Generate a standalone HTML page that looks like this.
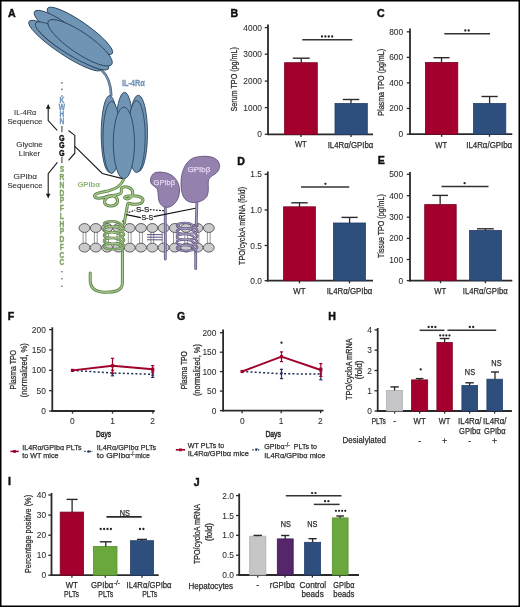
<!DOCTYPE html><html><head><meta charset="utf-8"><style>html,body{margin:0;padding:0;background:#fff;width:520px;height:607px;overflow:hidden}svg{display:block;will-change:transform;font-family:"Liberation Sans",sans-serif}</style></head><body>
<svg width="520" height="607" viewBox="0 0 520 607" font-family="Liberation Sans, sans-serif">
<rect x="0" y="0" width="520" height="607" fill="#fff"/>
<text x="8.00" y="17.30" font-size="10.6" text-anchor="start" fill="#111" font-weight="bold" stroke="#111" stroke-width="0.45">A</text>
<text x="230.40" y="16.90" font-size="10.6" text-anchor="start" fill="#111" font-weight="bold" stroke="#111" stroke-width="0.45">B</text>
<text x="376.90" y="17.20" font-size="10.6" text-anchor="start" fill="#111" font-weight="bold" stroke="#111" stroke-width="0.45">C</text>
<text x="237.30" y="164.60" font-size="10.6" text-anchor="start" fill="#111" font-weight="bold" stroke="#111" stroke-width="0.45">D</text>
<text x="377.70" y="164.20" font-size="10.6" text-anchor="start" fill="#111" font-weight="bold" stroke="#111" stroke-width="0.45">E</text>
<text x="7.70" y="319.60" font-size="10.6" text-anchor="start" fill="#111" font-weight="bold" stroke="#111" stroke-width="0.45">F</text>
<text x="176.90" y="319.90" font-size="10.6" text-anchor="start" fill="#111" font-weight="bold" stroke="#111" stroke-width="0.45">G</text>
<text x="328.30" y="320.00" font-size="10.6" text-anchor="start" fill="#111" font-weight="bold" stroke="#111" stroke-width="0.45">H</text>
<text x="8.00" y="485.10" font-size="10.6" text-anchor="start" fill="#111" font-weight="bold" stroke="#111" stroke-width="0.45">I</text>
<text x="193.70" y="485.80" font-size="10.6" text-anchor="start" fill="#111" font-weight="bold" stroke="#111" stroke-width="0.45">J</text>
<line x1="268.00" y1="24.60" x2="268.00" y2="135.10" stroke="#2a2a2a" stroke-width="1.8"/>
<line x1="264.80" y1="27.60" x2="268.00" y2="27.60" stroke="#2a2a2a" stroke-width="1.3"/>
<text x="262.00" y="30.61" font-size="8.4" text-anchor="end" fill="#2b2b2b" stroke="#2b2b2b" stroke-width="0.06">4000</text>
<line x1="264.80" y1="54.20" x2="268.00" y2="54.20" stroke="#2a2a2a" stroke-width="1.3"/>
<text x="262.00" y="57.21" font-size="8.4" text-anchor="end" fill="#2b2b2b" stroke="#2b2b2b" stroke-width="0.06">3000</text>
<line x1="264.80" y1="81.10" x2="268.00" y2="81.10" stroke="#2a2a2a" stroke-width="1.3"/>
<text x="262.00" y="84.11" font-size="8.4" text-anchor="end" fill="#2b2b2b" stroke="#2b2b2b" stroke-width="0.06">2000</text>
<line x1="264.80" y1="107.60" x2="268.00" y2="107.60" stroke="#2a2a2a" stroke-width="1.3"/>
<text x="262.00" y="110.61" font-size="8.4" text-anchor="end" fill="#2b2b2b" stroke="#2b2b2b" stroke-width="0.06">1000</text>
<line x1="264.80" y1="134.30" x2="268.00" y2="134.30" stroke="#2a2a2a" stroke-width="1.3"/>
<text x="262.00" y="137.31" font-size="8.4" text-anchor="end" fill="#2b2b2b" stroke="#2b2b2b" stroke-width="0.06">0</text>
<line x1="267.10" y1="134.30" x2="373.00" y2="134.30" stroke="#2a2a2a" stroke-width="1.8"/>
<line x1="301.00" y1="134.30" x2="301.00" y2="136.90" stroke="#2a2a2a" stroke-width="1.3"/>
<line x1="351.00" y1="134.30" x2="351.00" y2="136.90" stroke="#2a2a2a" stroke-width="1.3"/>
<rect x="284.60" y="62.70" width="32.70" height="71.60" fill="#a3002d" stroke="#7c0022" stroke-width="0.8"/>
<line x1="301.25" y1="62.80" x2="301.25" y2="58.20" stroke="#2a2a2a" stroke-width="1.3"/>
<line x1="292.80" y1="58.20" x2="309.70" y2="58.20" stroke="#2a2a2a" stroke-width="1.4"/>
<rect x="335.00" y="103.50" width="32.30" height="30.80" fill="#2e4e7e" stroke="#223e69" stroke-width="0.8"/>
<line x1="351.00" y1="103.60" x2="351.00" y2="99.50" stroke="#2a2a2a" stroke-width="1.3"/>
<line x1="342.80" y1="99.50" x2="359.20" y2="99.50" stroke="#2a2a2a" stroke-width="1.4"/>
<line x1="302.30" y1="39.80" x2="352.30" y2="39.80" stroke="#333" stroke-width="1.5"/>
<circle cx="322.00" cy="36.50" r="1.15" fill="#222"/>
<circle cx="325.40" cy="36.50" r="1.15" fill="#222"/>
<circle cx="328.80" cy="36.50" r="1.15" fill="#222"/>
<circle cx="332.20" cy="36.50" r="1.15" fill="#222"/>
<text x="300.80" y="147.40" font-size="8.8" text-anchor="middle" fill="#2b2b2b" stroke="#2b2b2b" stroke-width="0.25" textLength="11.8" lengthAdjust="spacingAndGlyphs">WT</text>
<text x="350.50" y="147.60" font-size="8.8" text-anchor="middle" fill="#2b2b2b" stroke="#2b2b2b" stroke-width="0.25" textLength="45.7" lengthAdjust="spacingAndGlyphs">IL4Rα/GPIbα</text>
<text transform="translate(237.10,79.30) rotate(-90)" x="0" y="0" font-size="9.2" text-anchor="middle" fill="#2b2b2b" stroke="#2b2b2b" stroke-width="0.25" textLength="64.2" lengthAdjust="spacingAndGlyphs">Serum TPO (pg/mL)</text>
<line x1="410.00" y1="28.50" x2="410.00" y2="135.00" stroke="#2a2a2a" stroke-width="1.8"/>
<line x1="406.80" y1="31.80" x2="410.00" y2="31.80" stroke="#2a2a2a" stroke-width="1.3"/>
<text x="403.20" y="34.81" font-size="8.4" text-anchor="end" fill="#2b2b2b" stroke="#2b2b2b" stroke-width="0.06">800</text>
<line x1="406.80" y1="57.35" x2="410.00" y2="57.35" stroke="#2a2a2a" stroke-width="1.3"/>
<text x="403.20" y="60.36" font-size="8.4" text-anchor="end" fill="#2b2b2b" stroke="#2b2b2b" stroke-width="0.06">600</text>
<line x1="406.80" y1="82.90" x2="410.00" y2="82.90" stroke="#2a2a2a" stroke-width="1.3"/>
<text x="403.20" y="85.91" font-size="8.4" text-anchor="end" fill="#2b2b2b" stroke="#2b2b2b" stroke-width="0.06">400</text>
<line x1="406.80" y1="108.45" x2="410.00" y2="108.45" stroke="#2a2a2a" stroke-width="1.3"/>
<text x="403.20" y="111.46" font-size="8.4" text-anchor="end" fill="#2b2b2b" stroke="#2b2b2b" stroke-width="0.06">200</text>
<line x1="406.80" y1="134.20" x2="410.00" y2="134.20" stroke="#2a2a2a" stroke-width="1.3"/>
<text x="403.20" y="137.21" font-size="8.4" text-anchor="end" fill="#2b2b2b" stroke="#2b2b2b" stroke-width="0.06">0</text>
<line x1="409.10" y1="134.20" x2="512.30" y2="134.20" stroke="#2a2a2a" stroke-width="1.8"/>
<line x1="441.60" y1="134.20" x2="441.60" y2="136.80" stroke="#2a2a2a" stroke-width="1.3"/>
<line x1="489.50" y1="134.20" x2="489.50" y2="136.80" stroke="#2a2a2a" stroke-width="1.3"/>
<rect x="425.40" y="62.40" width="32.40" height="71.80" fill="#a3002d" stroke="#7c0022" stroke-width="0.8"/>
<line x1="441.50" y1="62.50" x2="441.50" y2="57.70" stroke="#2a2a2a" stroke-width="1.3"/>
<line x1="433.50" y1="57.70" x2="449.50" y2="57.70" stroke="#2a2a2a" stroke-width="1.4"/>
<rect x="473.50" y="103.50" width="32.30" height="30.70" fill="#2e4e7e" stroke="#223e69" stroke-width="0.8"/>
<line x1="489.60" y1="103.60" x2="489.60" y2="96.50" stroke="#2a2a2a" stroke-width="1.3"/>
<line x1="481.50" y1="96.50" x2="497.70" y2="96.50" stroke="#2a2a2a" stroke-width="1.4"/>
<line x1="444.30" y1="33.80" x2="490.00" y2="33.80" stroke="#333" stroke-width="1.5"/>
<circle cx="465.30" cy="30.50" r="1.15" fill="#222"/>
<circle cx="468.70" cy="30.50" r="1.15" fill="#222"/>
<text x="441.20" y="147.60" font-size="8.8" text-anchor="middle" fill="#2b2b2b" stroke="#2b2b2b" stroke-width="0.25" textLength="11.8" lengthAdjust="spacingAndGlyphs">WT</text>
<text x="489.20" y="147.60" font-size="8.8" text-anchor="middle" fill="#2b2b2b" stroke="#2b2b2b" stroke-width="0.25" textLength="46" lengthAdjust="spacingAndGlyphs">IL4Rα/GPIbα</text>
<text transform="translate(384.00,82.30) rotate(-90)" x="0" y="0" font-size="9.2" text-anchor="middle" fill="#2b2b2b" stroke="#2b2b2b" stroke-width="0.25" textLength="66.8" lengthAdjust="spacingAndGlyphs">Plasma TPO (pg/mL)</text>
<line x1="267.80" y1="171.50" x2="267.80" y2="281.50" stroke="#2a2a2a" stroke-width="1.8"/>
<line x1="264.60" y1="174.30" x2="267.80" y2="174.30" stroke="#2a2a2a" stroke-width="1.3"/>
<text x="262.00" y="177.31" font-size="8.4" text-anchor="end" fill="#2b2b2b" stroke="#2b2b2b" stroke-width="0.06">1.5</text>
<line x1="264.60" y1="210.00" x2="267.80" y2="210.00" stroke="#2a2a2a" stroke-width="1.3"/>
<text x="262.00" y="213.01" font-size="8.4" text-anchor="end" fill="#2b2b2b" stroke="#2b2b2b" stroke-width="0.06">1.0</text>
<line x1="264.60" y1="245.50" x2="267.80" y2="245.50" stroke="#2a2a2a" stroke-width="1.3"/>
<text x="262.00" y="248.51" font-size="8.4" text-anchor="end" fill="#2b2b2b" stroke="#2b2b2b" stroke-width="0.06">0.5</text>
<line x1="264.60" y1="280.70" x2="267.80" y2="280.70" stroke="#2a2a2a" stroke-width="1.3"/>
<text x="262.00" y="283.71" font-size="8.4" text-anchor="end" fill="#2b2b2b" stroke="#2b2b2b" stroke-width="0.06">0.0</text>
<line x1="266.90" y1="280.70" x2="373.00" y2="280.70" stroke="#2a2a2a" stroke-width="1.8"/>
<line x1="299.50" y1="280.70" x2="299.50" y2="283.30" stroke="#2a2a2a" stroke-width="1.3"/>
<line x1="349.50" y1="280.70" x2="349.50" y2="283.30" stroke="#2a2a2a" stroke-width="1.3"/>
<rect x="283.60" y="206.80" width="31.80" height="73.90" fill="#a3002d" stroke="#7c0022" stroke-width="0.8"/>
<line x1="299.50" y1="206.90" x2="299.50" y2="202.80" stroke="#2a2a2a" stroke-width="1.3"/>
<line x1="291.30" y1="202.80" x2="307.70" y2="202.80" stroke="#2a2a2a" stroke-width="1.4"/>
<rect x="333.50" y="223.00" width="31.90" height="57.70" fill="#2e4e7e" stroke="#223e69" stroke-width="0.8"/>
<line x1="349.60" y1="223.10" x2="349.60" y2="217.40" stroke="#2a2a2a" stroke-width="1.3"/>
<line x1="341.50" y1="217.40" x2="357.70" y2="217.40" stroke="#2a2a2a" stroke-width="1.4"/>
<line x1="301.00" y1="187.10" x2="349.20" y2="187.10" stroke="#333" stroke-width="1.5"/>
<circle cx="325.40" cy="183.80" r="1.15" fill="#222"/>
<text x="299.40" y="293.70" font-size="8.8" text-anchor="middle" fill="#2b2b2b" stroke="#2b2b2b" stroke-width="0.25" textLength="12.2" lengthAdjust="spacingAndGlyphs">WT</text>
<text x="349.50" y="293.80" font-size="8.8" text-anchor="middle" fill="#2b2b2b" stroke="#2b2b2b" stroke-width="0.25" textLength="45.7" lengthAdjust="spacingAndGlyphs">IL4Rα/GPIbα</text>
<text transform="translate(245.40,225.90) rotate(-90)" x="0" y="0" font-size="9.2" text-anchor="middle" fill="#2b2b2b" stroke="#2b2b2b" stroke-width="0.25" textLength="78.1" lengthAdjust="spacingAndGlyphs">TPO/cycloA mRNA (fold)</text>
<line x1="410.00" y1="172.00" x2="410.00" y2="281.40" stroke="#2a2a2a" stroke-width="1.8"/>
<line x1="406.80" y1="174.30" x2="410.00" y2="174.30" stroke="#2a2a2a" stroke-width="1.3"/>
<text x="403.20" y="177.31" font-size="8.4" text-anchor="end" fill="#2b2b2b" stroke="#2b2b2b" stroke-width="0.06">500</text>
<line x1="406.80" y1="195.70" x2="410.00" y2="195.70" stroke="#2a2a2a" stroke-width="1.3"/>
<text x="403.20" y="198.71" font-size="8.4" text-anchor="end" fill="#2b2b2b" stroke="#2b2b2b" stroke-width="0.06">400</text>
<line x1="406.80" y1="217.20" x2="410.00" y2="217.20" stroke="#2a2a2a" stroke-width="1.3"/>
<text x="403.20" y="220.21" font-size="8.4" text-anchor="end" fill="#2b2b2b" stroke="#2b2b2b" stroke-width="0.06">300</text>
<line x1="406.80" y1="238.40" x2="410.00" y2="238.40" stroke="#2a2a2a" stroke-width="1.3"/>
<text x="403.20" y="241.41" font-size="8.4" text-anchor="end" fill="#2b2b2b" stroke="#2b2b2b" stroke-width="0.06">200</text>
<line x1="406.80" y1="259.50" x2="410.00" y2="259.50" stroke="#2a2a2a" stroke-width="1.3"/>
<text x="403.20" y="262.51" font-size="8.4" text-anchor="end" fill="#2b2b2b" stroke="#2b2b2b" stroke-width="0.06">100</text>
<line x1="406.80" y1="280.60" x2="410.00" y2="280.60" stroke="#2a2a2a" stroke-width="1.3"/>
<text x="403.20" y="283.61" font-size="8.4" text-anchor="end" fill="#2b2b2b" stroke="#2b2b2b" stroke-width="0.06">0</text>
<line x1="409.10" y1="280.60" x2="512.30" y2="280.60" stroke="#2a2a2a" stroke-width="1.8"/>
<line x1="440.50" y1="280.60" x2="440.50" y2="283.20" stroke="#2a2a2a" stroke-width="1.3"/>
<line x1="485.40" y1="280.60" x2="485.40" y2="283.20" stroke="#2a2a2a" stroke-width="1.3"/>
<rect x="424.70" y="204.60" width="31.50" height="76.00" fill="#a3002d" stroke="#7c0022" stroke-width="0.8"/>
<line x1="440.15" y1="204.70" x2="440.15" y2="195.40" stroke="#2a2a2a" stroke-width="1.3"/>
<line x1="432.30" y1="195.40" x2="448.00" y2="195.40" stroke="#2a2a2a" stroke-width="1.4"/>
<rect x="469.60" y="230.40" width="31.80" height="50.20" fill="#2e4e7e" stroke="#223e69" stroke-width="0.8"/>
<line x1="485.40" y1="230.50" x2="485.40" y2="228.80" stroke="#2a2a2a" stroke-width="1.3"/>
<line x1="477.00" y1="228.80" x2="493.80" y2="228.80" stroke="#2a2a2a" stroke-width="1.4"/>
<line x1="441.50" y1="186.60" x2="488.50" y2="186.60" stroke="#333" stroke-width="1.5"/>
<circle cx="464.60" cy="183.20" r="1.15" fill="#222"/>
<text x="440.30" y="293.70" font-size="8.8" text-anchor="middle" fill="#2b2b2b" stroke="#2b2b2b" stroke-width="0.25" textLength="11.9" lengthAdjust="spacingAndGlyphs">WT</text>
<text x="485.30" y="293.90" font-size="8.8" text-anchor="middle" fill="#2b2b2b" stroke="#2b2b2b" stroke-width="0.25" textLength="45" lengthAdjust="spacingAndGlyphs">IL4Rα/GPIbα</text>
<text transform="translate(384.20,226.00) rotate(-90)" x="0" y="0" font-size="9.2" text-anchor="middle" fill="#2b2b2b" stroke="#2b2b2b" stroke-width="0.25" textLength="63.8" lengthAdjust="spacingAndGlyphs">Tissue TPO (pg/mL)</text>
<line x1="52.30" y1="327.30" x2="52.30" y2="411.80" stroke="#2a2a2a" stroke-width="1.8"/>
<line x1="49.10" y1="329.60" x2="52.30" y2="329.60" stroke="#2a2a2a" stroke-width="1.3"/>
<text x="45.80" y="332.61" font-size="8.4" text-anchor="end" fill="#2b2b2b" stroke="#2b2b2b" stroke-width="0.06">200</text>
<line x1="49.10" y1="349.95" x2="52.30" y2="349.95" stroke="#2a2a2a" stroke-width="1.3"/>
<text x="45.80" y="352.96" font-size="8.4" text-anchor="end" fill="#2b2b2b" stroke="#2b2b2b" stroke-width="0.06">150</text>
<line x1="49.10" y1="370.30" x2="52.30" y2="370.30" stroke="#2a2a2a" stroke-width="1.3"/>
<text x="45.80" y="373.31" font-size="8.4" text-anchor="end" fill="#2b2b2b" stroke="#2b2b2b" stroke-width="0.06">100</text>
<line x1="49.10" y1="390.65" x2="52.30" y2="390.65" stroke="#2a2a2a" stroke-width="1.3"/>
<text x="45.80" y="393.66" font-size="8.4" text-anchor="end" fill="#2b2b2b" stroke="#2b2b2b" stroke-width="0.06">50</text>
<line x1="49.10" y1="411.00" x2="52.30" y2="411.00" stroke="#2a2a2a" stroke-width="1.3"/>
<text x="45.80" y="414.01" font-size="8.4" text-anchor="end" fill="#2b2b2b" stroke="#2b2b2b" stroke-width="0.06">0</text>
<line x1="51.40" y1="411.00" x2="154.70" y2="411.00" stroke="#2a2a2a" stroke-width="1.8"/>
<line x1="72.50" y1="411.00" x2="72.50" y2="413.60" stroke="#2a2a2a" stroke-width="1.3"/>
<line x1="112.50" y1="411.00" x2="112.50" y2="413.60" stroke="#2a2a2a" stroke-width="1.3"/>
<line x1="152.90" y1="411.00" x2="152.90" y2="413.60" stroke="#2a2a2a" stroke-width="1.3"/>
<text x="72.40" y="423.60" font-size="8.4" text-anchor="middle" fill="#2b2b2b" stroke="#2b2b2b" stroke-width="0.06">0</text>
<text x="112.50" y="423.60" font-size="8.4" text-anchor="middle" fill="#2b2b2b" stroke="#2b2b2b" stroke-width="0.06">1</text>
<text x="152.70" y="423.60" font-size="8.4" text-anchor="middle" fill="#2b2b2b" stroke="#2b2b2b" stroke-width="0.06">2</text>
<text x="96.10" y="436.50" font-size="8.8" text-anchor="start" fill="#2b2b2b" stroke="#2b2b2b" stroke-width="0.5" textLength="15.0" lengthAdjust="spacingAndGlyphs">Days</text>
<text transform="translate(15.60,369.70) rotate(-90)" x="0" y="0" font-size="9.8" text-anchor="middle" fill="#2b2b2b" stroke="#2b2b2b" stroke-width="0.25" textLength="39.5" lengthAdjust="spacingAndGlyphs">Plasma TPO</text>
<text transform="translate(27.00,370.20) rotate(-90)" x="0" y="0" font-size="9.8" text-anchor="middle" fill="#2b2b2b" stroke="#2b2b2b" stroke-width="0.25" textLength="54.3" lengthAdjust="spacingAndGlyphs">(normalized, %)</text>
<polyline points="72.50,370.40 112.50,373.00 152.70,374.30" fill="none" stroke="#1e2f5a" stroke-width="1.5" stroke-dasharray="2,2.2" stroke-linejoin="round"/>
<line x1="112.50" y1="370.20" x2="112.50" y2="375.80" stroke="#1e2f5a" stroke-width="1.2"/>
<line x1="110.90" y1="370.20" x2="114.10" y2="370.20" stroke="#1e2f5a" stroke-width="1.2"/>
<line x1="110.90" y1="375.80" x2="114.10" y2="375.80" stroke="#1e2f5a" stroke-width="1.2"/>
<line x1="152.70" y1="371.00" x2="152.70" y2="377.40" stroke="#1e2f5a" stroke-width="1.2"/>
<line x1="151.10" y1="371.00" x2="154.30" y2="371.00" stroke="#1e2f5a" stroke-width="1.2"/>
<line x1="151.10" y1="377.40" x2="154.30" y2="377.40" stroke="#1e2f5a" stroke-width="1.2"/>
<path d="M110.80,374.36 L114.20,374.36 L112.50,371.30 Z" fill="#1e2f5a"/>
<path d="M151.00,375.66 L154.40,375.66 L152.70,372.60 Z" fill="#1e2f5a"/>
<polyline points="72.50,370.40 112.50,365.80 152.70,369.20" fill="none" stroke="#a0002a" stroke-width="1.9" stroke-linejoin="round"/>
<line x1="112.50" y1="358.30" x2="112.50" y2="373.30" stroke="#a0002a" stroke-width="1.2"/>
<line x1="110.90" y1="358.30" x2="114.10" y2="358.30" stroke="#a0002a" stroke-width="1.2"/>
<line x1="110.90" y1="373.30" x2="114.10" y2="373.30" stroke="#a0002a" stroke-width="1.2"/>
<line x1="152.70" y1="365.60" x2="152.70" y2="372.80" stroke="#a0002a" stroke-width="1.2"/>
<line x1="151.10" y1="365.60" x2="154.30" y2="365.60" stroke="#a0002a" stroke-width="1.2"/>
<line x1="151.10" y1="372.80" x2="154.30" y2="372.80" stroke="#a0002a" stroke-width="1.2"/>
<rect x="70.90" y="368.80" width="3.20" height="3.20" fill="#a0002a"/>
<rect x="110.90" y="364.20" width="3.20" height="3.20" fill="#a0002a"/>
<rect x="151.10" y="367.60" width="3.20" height="3.20" fill="#a0002a"/>
<line x1="10.40" y1="451.40" x2="18.70" y2="451.40" stroke="#a0002a" stroke-width="1.6"/>
<rect x="13.10" y="450.00" width="2.80" height="2.80" fill="#a0002a"/>
<text x="22.30" y="449.70" font-size="8.1" text-anchor="start" fill="#2b2b2b" stroke="#2b2b2b" stroke-width="0.25" textLength="59.2" lengthAdjust="spacingAndGlyphs">IL4Rα/GPIbα PLTs</text>
<text x="22.30" y="458.10" font-size="8.1" text-anchor="start" fill="#2b2b2b" stroke="#2b2b2b" stroke-width="0.25" textLength="36.2" lengthAdjust="spacingAndGlyphs">to WT mice</text>
<line x1="84.30" y1="451.40" x2="93.00" y2="451.40" stroke="#1e2f5a" stroke-width="1.3" stroke-dasharray="1.4,1.4"/>
<path d="M87.15,452.62 L90.45,452.62 L88.80,449.65 Z" fill="#1e2f5a"/>
<text x="96.80" y="449.80" font-size="8.1" text-anchor="start" fill="#2b2b2b" stroke="#2b2b2b" stroke-width="0.25" textLength="59.4" lengthAdjust="spacingAndGlyphs">IL4Rα/GPIbα PLTs</text>
<text x="96.80" y="457.90" font-size="8.1" text-anchor="start" fill="#2b2b2b" stroke="#2b2b2b" stroke-width="0.25" textLength="33.4" lengthAdjust="spacingAndGlyphs">to GPIbα</text>
<text x="130.50" y="455.60" font-size="6.4" text-anchor="start" fill="#2b2b2b" stroke="#2b2b2b" stroke-width="0.25" textLength="4.4" lengthAdjust="spacingAndGlyphs">-/-</text>
<text x="135.20" y="457.90" font-size="8.1" text-anchor="start" fill="#2b2b2b" stroke="#2b2b2b" stroke-width="0.25" textLength="14.6" lengthAdjust="spacingAndGlyphs">mice</text>
<line x1="223.10" y1="329.60" x2="223.10" y2="411.40" stroke="#2a2a2a" stroke-width="1.8"/>
<line x1="219.90" y1="332.70" x2="223.10" y2="332.70" stroke="#2a2a2a" stroke-width="1.3"/>
<text x="216.40" y="335.71" font-size="8.4" text-anchor="end" fill="#2b2b2b" stroke="#2b2b2b" stroke-width="0.06">200</text>
<line x1="219.90" y1="352.20" x2="223.10" y2="352.20" stroke="#2a2a2a" stroke-width="1.3"/>
<text x="216.40" y="355.21" font-size="8.4" text-anchor="end" fill="#2b2b2b" stroke="#2b2b2b" stroke-width="0.06">150</text>
<line x1="219.90" y1="371.60" x2="223.10" y2="371.60" stroke="#2a2a2a" stroke-width="1.3"/>
<text x="216.40" y="374.61" font-size="8.4" text-anchor="end" fill="#2b2b2b" stroke="#2b2b2b" stroke-width="0.06">100</text>
<line x1="219.90" y1="391.10" x2="223.10" y2="391.10" stroke="#2a2a2a" stroke-width="1.3"/>
<text x="216.40" y="394.11" font-size="8.4" text-anchor="end" fill="#2b2b2b" stroke="#2b2b2b" stroke-width="0.06">50</text>
<line x1="219.90" y1="410.60" x2="223.10" y2="410.60" stroke="#2a2a2a" stroke-width="1.3"/>
<text x="216.40" y="413.61" font-size="8.4" text-anchor="end" fill="#2b2b2b" stroke="#2b2b2b" stroke-width="0.06">0</text>
<line x1="222.20" y1="410.60" x2="323.50" y2="410.60" stroke="#2a2a2a" stroke-width="1.8"/>
<line x1="242.10" y1="410.60" x2="242.10" y2="413.20" stroke="#2a2a2a" stroke-width="1.3"/>
<line x1="281.20" y1="410.60" x2="281.20" y2="413.20" stroke="#2a2a2a" stroke-width="1.3"/>
<line x1="320.60" y1="410.60" x2="320.60" y2="413.20" stroke="#2a2a2a" stroke-width="1.3"/>
<text x="242.30" y="423.60" font-size="8.4" text-anchor="middle" fill="#2b2b2b" stroke="#2b2b2b" stroke-width="0.06">0</text>
<text x="281.10" y="423.60" font-size="8.4" text-anchor="middle" fill="#2b2b2b" stroke="#2b2b2b" stroke-width="0.06">1</text>
<text x="320.40" y="423.60" font-size="8.4" text-anchor="middle" fill="#2b2b2b" stroke="#2b2b2b" stroke-width="0.06">2</text>
<text x="265.40" y="436.50" font-size="8.8" text-anchor="start" fill="#2b2b2b" stroke="#2b2b2b" stroke-width="0.5" textLength="15.5" lengthAdjust="spacingAndGlyphs">Days</text>
<text transform="translate(186.60,370.20) rotate(-90)" x="0" y="0" font-size="9.8" text-anchor="middle" fill="#2b2b2b" stroke="#2b2b2b" stroke-width="0.25" textLength="38.1" lengthAdjust="spacingAndGlyphs">Plasma TPO</text>
<text transform="translate(199.60,370.10) rotate(-90)" x="0" y="0" font-size="9.8" text-anchor="middle" fill="#2b2b2b" stroke="#2b2b2b" stroke-width="0.25" textLength="52.0" lengthAdjust="spacingAndGlyphs">(normalized, %)</text>
<polyline points="242.10,371.50 281.50,373.80 320.80,374.00" fill="none" stroke="#1e2f5a" stroke-width="1.5" stroke-dasharray="2,2.2" stroke-linejoin="round"/>
<line x1="281.50" y1="369.30" x2="281.50" y2="378.60" stroke="#1e2f5a" stroke-width="1.2"/>
<line x1="279.90" y1="369.30" x2="283.10" y2="369.30" stroke="#1e2f5a" stroke-width="1.2"/>
<line x1="279.90" y1="378.60" x2="283.10" y2="378.60" stroke="#1e2f5a" stroke-width="1.2"/>
<line x1="320.80" y1="368.20" x2="320.80" y2="379.80" stroke="#1e2f5a" stroke-width="1.2"/>
<line x1="319.20" y1="368.20" x2="322.40" y2="368.20" stroke="#1e2f5a" stroke-width="1.2"/>
<line x1="319.20" y1="379.80" x2="322.40" y2="379.80" stroke="#1e2f5a" stroke-width="1.2"/>
<path d="M279.80,372.44 L283.20,372.44 L281.50,375.50 Z" fill="#1e2f5a"/>
<path d="M319.10,372.64 L322.50,372.64 L320.80,375.70 Z" fill="#1e2f5a"/>
<polyline points="242.10,371.50 281.50,356.70 320.80,370.00" fill="none" stroke="#a0002a" stroke-width="1.9" stroke-linejoin="round"/>
<line x1="281.50" y1="351.90" x2="281.50" y2="361.60" stroke="#a0002a" stroke-width="1.2"/>
<line x1="279.90" y1="351.90" x2="283.10" y2="351.90" stroke="#a0002a" stroke-width="1.2"/>
<line x1="279.90" y1="361.60" x2="283.10" y2="361.60" stroke="#a0002a" stroke-width="1.2"/>
<line x1="320.80" y1="363.60" x2="320.80" y2="376.40" stroke="#a0002a" stroke-width="1.2"/>
<line x1="319.20" y1="363.60" x2="322.40" y2="363.60" stroke="#a0002a" stroke-width="1.2"/>
<line x1="319.20" y1="376.40" x2="322.40" y2="376.40" stroke="#a0002a" stroke-width="1.2"/>
<rect x="240.50" y="369.90" width="3.20" height="3.20" fill="#a0002a"/>
<rect x="279.90" y="355.10" width="3.20" height="3.20" fill="#a0002a"/>
<rect x="319.20" y="368.40" width="3.20" height="3.20" fill="#a0002a"/>
<circle cx="281.50" cy="342.70" r="1.15" fill="#222"/>
<line x1="175.80" y1="449.80" x2="185.10" y2="449.80" stroke="#a0002a" stroke-width="1.6"/>
<rect x="179.00" y="448.40" width="2.80" height="2.80" fill="#a0002a"/>
<text x="187.80" y="447.50" font-size="8.1" text-anchor="start" fill="#2b2b2b" stroke="#2b2b2b" stroke-width="0.25" textLength="36.5" lengthAdjust="spacingAndGlyphs">WT PLTs to</text>
<text x="187.80" y="456.30" font-size="8.1" text-anchor="start" fill="#2b2b2b" stroke="#2b2b2b" stroke-width="0.25" textLength="61.1" lengthAdjust="spacingAndGlyphs">IL4Rα/GPIbα mice</text>
<line x1="252.30" y1="449.80" x2="260.80" y2="449.80" stroke="#1e2f5a" stroke-width="1.3" stroke-dasharray="1.4,1.4"/>
<path d="M255.00,448.60 L258.00,448.60 L256.50,451.30 Z" fill="#1e2f5a"/>
<text x="264.20" y="449.20" font-size="8.1" text-anchor="start" fill="#2b2b2b" stroke="#2b2b2b" stroke-width="0.25" textLength="20.4" lengthAdjust="spacingAndGlyphs">GPIbα</text>
<text x="285.00" y="447.40" font-size="6.4" text-anchor="start" fill="#2b2b2b" stroke="#2b2b2b" stroke-width="0.25" textLength="5.0" lengthAdjust="spacingAndGlyphs">-/-</text>
<text x="293.80" y="449.20" font-size="8.1" text-anchor="start" fill="#2b2b2b" stroke="#2b2b2b" stroke-width="0.25" textLength="23.1" lengthAdjust="spacingAndGlyphs">PLTs to</text>
<text x="264.20" y="458.00" font-size="8.1" text-anchor="start" fill="#2b2b2b" stroke="#2b2b2b" stroke-width="0.25" textLength="61.2" lengthAdjust="spacingAndGlyphs">IL4Rα/GPIbα mice</text>
<line x1="377.70" y1="328.00" x2="377.70" y2="411.80" stroke="#2a2a2a" stroke-width="1.8"/>
<line x1="374.50" y1="329.90" x2="377.70" y2="329.90" stroke="#2a2a2a" stroke-width="1.3"/>
<text x="371.80" y="332.91" font-size="8.4" text-anchor="end" fill="#2b2b2b" stroke="#2b2b2b" stroke-width="0.06">4</text>
<line x1="374.50" y1="350.20" x2="377.70" y2="350.20" stroke="#2a2a2a" stroke-width="1.3"/>
<text x="371.80" y="353.21" font-size="8.4" text-anchor="end" fill="#2b2b2b" stroke="#2b2b2b" stroke-width="0.06">3</text>
<line x1="374.50" y1="370.50" x2="377.70" y2="370.50" stroke="#2a2a2a" stroke-width="1.3"/>
<text x="371.80" y="373.51" font-size="8.4" text-anchor="end" fill="#2b2b2b" stroke="#2b2b2b" stroke-width="0.06">2</text>
<line x1="374.50" y1="390.80" x2="377.70" y2="390.80" stroke="#2a2a2a" stroke-width="1.3"/>
<text x="371.80" y="393.81" font-size="8.4" text-anchor="end" fill="#2b2b2b" stroke="#2b2b2b" stroke-width="0.06">1</text>
<line x1="374.50" y1="411.00" x2="377.70" y2="411.00" stroke="#2a2a2a" stroke-width="1.3"/>
<text x="371.80" y="414.01" font-size="8.4" text-anchor="end" fill="#2b2b2b" stroke="#2b2b2b" stroke-width="0.06">0</text>
<line x1="376.80" y1="411.00" x2="511.90" y2="411.00" stroke="#2a2a2a" stroke-width="1.8"/>
<line x1="394.60" y1="411.00" x2="394.60" y2="413.60" stroke="#2a2a2a" stroke-width="1.3"/>
<line x1="419.60" y1="411.00" x2="419.60" y2="413.60" stroke="#2a2a2a" stroke-width="1.3"/>
<line x1="444.60" y1="411.00" x2="444.60" y2="413.60" stroke="#2a2a2a" stroke-width="1.3"/>
<line x1="469.60" y1="411.00" x2="469.60" y2="413.60" stroke="#2a2a2a" stroke-width="1.3"/>
<line x1="494.60" y1="411.00" x2="494.60" y2="413.60" stroke="#2a2a2a" stroke-width="1.3"/>
<rect x="386.60" y="390.40" width="16.00" height="20.60" fill="#c6c6c9" stroke="#b0b0b4" stroke-width="0.8"/>
<line x1="394.60" y1="390.50" x2="394.60" y2="386.90" stroke="#2a2a2a" stroke-width="1.3"/>
<line x1="390.40" y1="386.90" x2="398.80" y2="386.90" stroke="#2a2a2a" stroke-width="1.4"/>
<rect x="411.60" y="379.90" width="16.10" height="31.10" fill="#a3002d" stroke="#7c0022" stroke-width="0.8"/>
<line x1="419.60" y1="380.00" x2="419.60" y2="378.60" stroke="#2a2a2a" stroke-width="1.3"/>
<line x1="415.80" y1="378.60" x2="423.40" y2="378.60" stroke="#2a2a2a" stroke-width="1.4"/>
<rect x="436.90" y="342.40" width="15.40" height="68.60" fill="#a3002d" stroke="#7c0022" stroke-width="0.8"/>
<line x1="444.60" y1="342.50" x2="444.60" y2="338.50" stroke="#2a2a2a" stroke-width="1.3"/>
<line x1="439.80" y1="338.50" x2="449.40" y2="338.50" stroke="#2a2a2a" stroke-width="1.4"/>
<rect x="461.90" y="385.50" width="15.70" height="25.50" fill="#2e4e7e" stroke="#223e69" stroke-width="0.8"/>
<line x1="469.60" y1="385.60" x2="469.60" y2="382.80" stroke="#2a2a2a" stroke-width="1.3"/>
<line x1="465.40" y1="382.80" x2="473.80" y2="382.80" stroke="#2a2a2a" stroke-width="1.4"/>
<rect x="486.90" y="379.20" width="15.50" height="31.80" fill="#2e4e7e" stroke="#223e69" stroke-width="0.8"/>
<line x1="495.00" y1="379.30" x2="495.00" y2="372.00" stroke="#2a2a2a" stroke-width="1.3"/>
<line x1="491.00" y1="372.00" x2="499.00" y2="372.00" stroke="#2a2a2a" stroke-width="1.4"/>
<circle cx="420.70" cy="369.40" r="1.15" fill="#222"/>
<circle cx="440.15" cy="335.40" r="1.1" fill="#222"/>
<circle cx="443.25" cy="335.40" r="1.1" fill="#222"/>
<circle cx="446.35" cy="335.40" r="1.1" fill="#222"/>
<circle cx="449.45" cy="335.40" r="1.1" fill="#222"/>
<line x1="419.60" y1="330.30" x2="444.50" y2="330.30" stroke="#333" stroke-width="1.5"/>
<circle cx="428.60" cy="327.00" r="1.15" fill="#222"/>
<circle cx="432.00" cy="327.00" r="1.15" fill="#222"/>
<circle cx="435.40" cy="327.00" r="1.15" fill="#222"/>
<line x1="447.40" y1="330.30" x2="496.20" y2="330.30" stroke="#333" stroke-width="1.5"/>
<circle cx="469.80" cy="327.00" r="1.15" fill="#222"/>
<circle cx="473.20" cy="327.00" r="1.15" fill="#222"/>
<text x="470.00" y="375.00" font-size="8.8" text-anchor="middle" fill="#2b2b2b" stroke="#2b2b2b" stroke-width="0.25" textLength="10.3" lengthAdjust="spacingAndGlyphs">NS</text>
<text x="496.50" y="365.50" font-size="8.8" text-anchor="middle" fill="#2b2b2b" stroke="#2b2b2b" stroke-width="0.25" textLength="10.3" lengthAdjust="spacingAndGlyphs">NS</text>
<text x="371.70" y="424.20" font-size="8.8" text-anchor="start" fill="#2b2b2b" stroke="#2b2b2b" stroke-width="0.25" textLength="14.1" lengthAdjust="spacingAndGlyphs">PLTs</text>
<text x="394.60" y="423.60" font-size="8.8" text-anchor="middle" fill="#2b2b2b" stroke="#2b2b2b" stroke-width="0.25">-</text>
<text x="419.60" y="424.20" font-size="8.8" text-anchor="middle" fill="#2b2b2b" stroke="#2b2b2b" stroke-width="0.25" textLength="12.1" lengthAdjust="spacingAndGlyphs">WT</text>
<text x="444.60" y="424.20" font-size="8.8" text-anchor="middle" fill="#2b2b2b" stroke="#2b2b2b" stroke-width="0.25" textLength="11.6" lengthAdjust="spacingAndGlyphs">WT</text>
<text x="469.80" y="424.20" font-size="8.8" text-anchor="middle" fill="#2b2b2b" stroke="#2b2b2b" stroke-width="0.25" textLength="23.5" lengthAdjust="spacingAndGlyphs">IL4Rα/</text>
<text x="494.80" y="424.20" font-size="8.8" text-anchor="middle" fill="#2b2b2b" stroke="#2b2b2b" stroke-width="0.25" textLength="23.5" lengthAdjust="spacingAndGlyphs">IL4Rα/</text>
<text x="469.80" y="433.50" font-size="8.8" text-anchor="middle" fill="#2b2b2b" stroke="#2b2b2b" stroke-width="0.25" textLength="21.5" lengthAdjust="spacingAndGlyphs">GPIbα</text>
<text x="494.80" y="433.50" font-size="8.8" text-anchor="middle" fill="#2b2b2b" stroke="#2b2b2b" stroke-width="0.25" textLength="21.5" lengthAdjust="spacingAndGlyphs">GPIbα</text>
<text x="342.60" y="443.20" font-size="8.8" text-anchor="start" fill="#2b2b2b" stroke="#2b2b2b" stroke-width="0.25" textLength="43.2" lengthAdjust="spacingAndGlyphs">Desialylated</text>
<text x="419.60" y="443.60" font-size="8.8" text-anchor="middle" fill="#2b2b2b" stroke="#2b2b2b" stroke-width="0.25">-</text>
<text x="444.60" y="443.60" font-size="8.8" text-anchor="middle" fill="#2b2b2b" stroke="#2b2b2b" stroke-width="0.25">+</text>
<text x="469.60" y="443.60" font-size="8.8" text-anchor="middle" fill="#2b2b2b" stroke="#2b2b2b" stroke-width="0.25">-</text>
<text x="494.60" y="443.60" font-size="8.8" text-anchor="middle" fill="#2b2b2b" stroke="#2b2b2b" stroke-width="0.25">+</text>
<text transform="translate(351.60,369.20) rotate(-90)" x="0" y="0" font-size="8.2" text-anchor="middle" fill="#2b2b2b" stroke="#2b2b2b" stroke-width="0.25" textLength="61.4" lengthAdjust="spacingAndGlyphs">TPO/cycloA mRNA</text>
<text transform="translate(361.60,369.90) rotate(-90)" x="0" y="0" font-size="8.2" text-anchor="middle" fill="#2b2b2b" stroke="#2b2b2b" stroke-width="0.25" textLength="18.9" lengthAdjust="spacingAndGlyphs">(fold)</text>
<line x1="51.50" y1="493.00" x2="51.50" y2="576.00" stroke="#2a2a2a" stroke-width="1.8"/>
<line x1="48.30" y1="495.00" x2="51.50" y2="495.00" stroke="#2a2a2a" stroke-width="1.3"/>
<text x="46.20" y="498.01" font-size="8.4" text-anchor="end" fill="#2b2b2b" stroke="#2b2b2b" stroke-width="0.06">40</text>
<line x1="48.30" y1="515.10" x2="51.50" y2="515.10" stroke="#2a2a2a" stroke-width="1.3"/>
<text x="46.20" y="518.11" font-size="8.4" text-anchor="end" fill="#2b2b2b" stroke="#2b2b2b" stroke-width="0.06">30</text>
<line x1="48.30" y1="535.20" x2="51.50" y2="535.20" stroke="#2a2a2a" stroke-width="1.3"/>
<text x="46.20" y="538.21" font-size="8.4" text-anchor="end" fill="#2b2b2b" stroke="#2b2b2b" stroke-width="0.06">20</text>
<line x1="48.30" y1="555.30" x2="51.50" y2="555.30" stroke="#2a2a2a" stroke-width="1.3"/>
<text x="46.20" y="558.31" font-size="8.4" text-anchor="end" fill="#2b2b2b" stroke="#2b2b2b" stroke-width="0.06">10</text>
<line x1="48.30" y1="575.20" x2="51.50" y2="575.20" stroke="#2a2a2a" stroke-width="1.3"/>
<text x="46.20" y="578.21" font-size="8.4" text-anchor="end" fill="#2b2b2b" stroke="#2b2b2b" stroke-width="0.06">0</text>
<line x1="50.60" y1="575.20" x2="158.70" y2="575.20" stroke="#2a2a2a" stroke-width="1.8"/>
<line x1="71.90" y1="575.20" x2="71.90" y2="577.80" stroke="#2a2a2a" stroke-width="1.3"/>
<line x1="105.30" y1="575.20" x2="105.30" y2="577.80" stroke="#2a2a2a" stroke-width="1.3"/>
<line x1="142.00" y1="575.20" x2="142.00" y2="577.80" stroke="#2a2a2a" stroke-width="1.3"/>
<rect x="60.20" y="512.10" width="23.40" height="63.10" fill="#a3002d" stroke="#7c0022" stroke-width="0.8"/>
<line x1="72.10" y1="512.20" x2="72.10" y2="499.40" stroke="#2a2a2a" stroke-width="1.3"/>
<line x1="66.60" y1="499.40" x2="77.60" y2="499.40" stroke="#2a2a2a" stroke-width="1.4"/>
<rect x="93.50" y="546.40" width="23.50" height="28.80" fill="#6aa83e" stroke="#55902f" stroke-width="0.8"/>
<line x1="105.75" y1="546.50" x2="105.75" y2="541.80" stroke="#2a2a2a" stroke-width="1.3"/>
<line x1="99.80" y1="541.80" x2="111.70" y2="541.80" stroke="#2a2a2a" stroke-width="1.4"/>
<rect x="130.50" y="540.70" width="23.10" height="34.50" fill="#2e4e7e" stroke="#223e69" stroke-width="0.8"/>
<line x1="142.00" y1="540.80" x2="142.00" y2="539.40" stroke="#2a2a2a" stroke-width="1.3"/>
<line x1="137.00" y1="539.40" x2="147.00" y2="539.40" stroke="#2a2a2a" stroke-width="1.4"/>
<circle cx="100.70" cy="529.00" r="1.15" fill="#222"/>
<circle cx="104.10" cy="529.00" r="1.15" fill="#222"/>
<circle cx="107.50" cy="529.00" r="1.15" fill="#222"/>
<circle cx="110.90" cy="529.00" r="1.15" fill="#222"/>
<circle cx="140.00" cy="529.00" r="1.15" fill="#222"/>
<circle cx="143.40" cy="529.00" r="1.15" fill="#222"/>
<line x1="106.40" y1="516.90" x2="141.70" y2="516.90" stroke="#2a2a2a" stroke-width="1.6"/>
<text x="124.80" y="515.50" font-size="8.8" text-anchor="middle" fill="#2b2b2b" stroke="#2b2b2b" stroke-width="0.25" textLength="10.3" lengthAdjust="spacingAndGlyphs">NS</text>
<text x="71.80" y="588.30" font-size="8.8" text-anchor="middle" fill="#2b2b2b" stroke="#2b2b2b" stroke-width="0.25" textLength="12.2" lengthAdjust="spacingAndGlyphs">WT</text>
<text x="91.00" y="588.40" font-size="8.8" text-anchor="start" fill="#2b2b2b" stroke="#2b2b2b" stroke-width="0.25" textLength="22.3" lengthAdjust="spacingAndGlyphs">GPIbα</text>
<text x="113.80" y="585.40" font-size="6.4" text-anchor="start" fill="#2b2b2b" stroke="#2b2b2b" stroke-width="0.25" textLength="6.0" lengthAdjust="spacingAndGlyphs">-/-</text>
<text x="149.10" y="588.30" font-size="8.8" text-anchor="middle" fill="#2b2b2b" stroke="#2b2b2b" stroke-width="0.25" textLength="45" lengthAdjust="spacingAndGlyphs">IL4Rα/GPIbα</text>
<text x="71.60" y="597.30" font-size="8.8" text-anchor="middle" fill="#2b2b2b" stroke="#2b2b2b" stroke-width="0.25" textLength="15" lengthAdjust="spacingAndGlyphs">PLTs</text>
<text x="105.80" y="597.30" font-size="8.8" text-anchor="middle" fill="#2b2b2b" stroke="#2b2b2b" stroke-width="0.25" textLength="15" lengthAdjust="spacingAndGlyphs">PLTs</text>
<text x="149.70" y="597.30" font-size="8.8" text-anchor="middle" fill="#2b2b2b" stroke="#2b2b2b" stroke-width="0.25" textLength="15" lengthAdjust="spacingAndGlyphs">PLTs</text>
<text transform="translate(31.20,534.00) rotate(-90)" x="0" y="0" font-size="9.2" text-anchor="middle" fill="#2b2b2b" stroke="#2b2b2b" stroke-width="0.25" textLength="78.2" lengthAdjust="spacingAndGlyphs">Percentage positive (%)</text>
<line x1="239.20" y1="493.50" x2="239.20" y2="575.80" stroke="#2a2a2a" stroke-width="1.8"/>
<line x1="236.00" y1="495.60" x2="239.20" y2="495.60" stroke="#2a2a2a" stroke-width="1.3"/>
<text x="234.00" y="498.61" font-size="8.4" text-anchor="end" fill="#2b2b2b" stroke="#2b2b2b" stroke-width="0.06">2.0</text>
<line x1="236.00" y1="515.50" x2="239.20" y2="515.50" stroke="#2a2a2a" stroke-width="1.3"/>
<text x="234.00" y="518.51" font-size="8.4" text-anchor="end" fill="#2b2b2b" stroke="#2b2b2b" stroke-width="0.06">1.5</text>
<line x1="236.00" y1="535.30" x2="239.20" y2="535.30" stroke="#2a2a2a" stroke-width="1.3"/>
<text x="234.00" y="538.31" font-size="8.4" text-anchor="end" fill="#2b2b2b" stroke="#2b2b2b" stroke-width="0.06">1.0</text>
<line x1="236.00" y1="555.20" x2="239.20" y2="555.20" stroke="#2a2a2a" stroke-width="1.3"/>
<text x="234.00" y="558.21" font-size="8.4" text-anchor="end" fill="#2b2b2b" stroke="#2b2b2b" stroke-width="0.06">0.5</text>
<line x1="236.00" y1="575.00" x2="239.20" y2="575.00" stroke="#2a2a2a" stroke-width="1.3"/>
<text x="234.00" y="578.01" font-size="8.4" text-anchor="end" fill="#2b2b2b" stroke="#2b2b2b" stroke-width="0.06">0.0</text>
<line x1="238.30" y1="575.00" x2="359.00" y2="575.00" stroke="#2a2a2a" stroke-width="1.8"/>
<line x1="257.70" y1="575.00" x2="257.70" y2="577.60" stroke="#2a2a2a" stroke-width="1.3"/>
<line x1="285.00" y1="575.00" x2="285.00" y2="577.60" stroke="#2a2a2a" stroke-width="1.3"/>
<line x1="312.40" y1="575.00" x2="312.40" y2="577.60" stroke="#2a2a2a" stroke-width="1.3"/>
<line x1="339.80" y1="575.00" x2="339.80" y2="577.60" stroke="#2a2a2a" stroke-width="1.3"/>
<rect x="249.70" y="536.20" width="16.10" height="38.80" fill="#c6c6c9" stroke="#b0b0b4" stroke-width="0.8"/>
<line x1="257.70" y1="536.30" x2="257.70" y2="535.40" stroke="#2a2a2a" stroke-width="1.3"/>
<line x1="253.50" y1="535.40" x2="261.90" y2="535.40" stroke="#2a2a2a" stroke-width="1.4"/>
<rect x="277.30" y="538.90" width="15.90" height="36.10" fill="#55266b" stroke="#3e1850" stroke-width="0.8"/>
<line x1="285.20" y1="539.00" x2="285.20" y2="535.50" stroke="#2a2a2a" stroke-width="1.3"/>
<line x1="281.10" y1="535.50" x2="289.30" y2="535.50" stroke="#2a2a2a" stroke-width="1.4"/>
<rect x="304.60" y="542.30" width="16.00" height="32.70" fill="#2e4e7e" stroke="#223e69" stroke-width="0.8"/>
<line x1="312.60" y1="542.40" x2="312.60" y2="538.70" stroke="#2a2a2a" stroke-width="1.3"/>
<line x1="308.50" y1="538.70" x2="316.70" y2="538.70" stroke="#2a2a2a" stroke-width="1.4"/>
<rect x="332.30" y="517.90" width="15.80" height="57.10" fill="#6aa83e" stroke="#55902f" stroke-width="0.8"/>
<line x1="340.15" y1="518.00" x2="340.15" y2="516.00" stroke="#2a2a2a" stroke-width="1.3"/>
<line x1="336.30" y1="516.00" x2="344.00" y2="516.00" stroke="#2a2a2a" stroke-width="1.4"/>
<text x="285.90" y="526.60" font-size="8.8" text-anchor="middle" fill="#2b2b2b" stroke="#2b2b2b" stroke-width="0.25" textLength="10.2" lengthAdjust="spacingAndGlyphs">NS</text>
<text x="312.40" y="526.60" font-size="8.8" text-anchor="middle" fill="#2b2b2b" stroke="#2b2b2b" stroke-width="0.25" textLength="10.2" lengthAdjust="spacingAndGlyphs">NS</text>
<circle cx="335.95" cy="510.80" r="1.1" fill="#222"/>
<circle cx="339.05" cy="510.80" r="1.1" fill="#222"/>
<circle cx="342.15" cy="510.80" r="1.1" fill="#222"/>
<circle cx="345.25" cy="510.80" r="1.1" fill="#222"/>
<line x1="285.80" y1="495.80" x2="341.50" y2="495.80" stroke="#333" stroke-width="1.5"/>
<circle cx="312.10" cy="493.10" r="1.15" fill="#222"/>
<circle cx="315.50" cy="493.10" r="1.15" fill="#222"/>
<line x1="313.80" y1="504.40" x2="339.60" y2="504.40" stroke="#333" stroke-width="1.5"/>
<circle cx="325.00" cy="501.20" r="1.15" fill="#222"/>
<circle cx="328.40" cy="501.20" r="1.15" fill="#222"/>
<text x="188.50" y="589.30" font-size="8.8" text-anchor="start" fill="#2b2b2b" stroke="#2b2b2b" stroke-width="0.25" textLength="44.6" lengthAdjust="spacingAndGlyphs">Hepatocytes</text>
<text x="257.70" y="588.20" font-size="8.8" text-anchor="middle" fill="#2b2b2b" stroke="#2b2b2b" stroke-width="0.25">-</text>
<text x="282.30" y="588.00" font-size="8.8" text-anchor="middle" fill="#2b2b2b" stroke="#2b2b2b" stroke-width="0.25" textLength="25" lengthAdjust="spacingAndGlyphs">rGPIbα</text>
<text x="312.90" y="588.00" font-size="8.8" text-anchor="middle" fill="#2b2b2b" stroke="#2b2b2b" stroke-width="0.25" textLength="26.6" lengthAdjust="spacingAndGlyphs">Control</text>
<text x="343.90" y="588.00" font-size="8.8" text-anchor="middle" fill="#2b2b2b" stroke="#2b2b2b" stroke-width="0.25" textLength="21.1" lengthAdjust="spacingAndGlyphs">GPIbα</text>
<text x="312.60" y="596.90" font-size="8.8" text-anchor="middle" fill="#2b2b2b" stroke="#2b2b2b" stroke-width="0.25" textLength="22.2" lengthAdjust="spacingAndGlyphs">beads</text>
<text x="343.90" y="596.90" font-size="8.8" text-anchor="middle" fill="#2b2b2b" stroke="#2b2b2b" stroke-width="0.25" textLength="21.1" lengthAdjust="spacingAndGlyphs">beads</text>
<text transform="translate(199.90,534.00) rotate(-90)" x="0" y="0" font-size="8.2" text-anchor="middle" fill="#2b2b2b" stroke="#2b2b2b" stroke-width="0.25" textLength="60" lengthAdjust="spacingAndGlyphs">TPO/cycloA mRNA</text>
<text transform="translate(212.20,532.00) rotate(-90)" x="0" y="0" font-size="8.2" text-anchor="middle" fill="#2b2b2b" stroke="#2b2b2b" stroke-width="0.25" textLength="18" lengthAdjust="spacingAndGlyphs">(fold)</text>
<path d="M101.5,70 C107,75 111,84 111.2,96" fill="none" stroke="#46627f" stroke-width="2.6"/>
<path d="M101.5,70 C107,75 111,84 111.2,96" fill="none" stroke="#7c98b4" stroke-width="1.2"/>
<ellipse cx="79.90" cy="30.90" rx="39.50" ry="8.80" transform="rotate(34.90 79.90 30.90)" fill="#7095b4" stroke="#2b4560" stroke-width="0.9"/>
<ellipse cx="60.07" cy="29.27" rx="31.00" ry="8.20" transform="rotate(34.74 60.07 29.27)" fill="#7095b4" stroke="#2b4560" stroke-width="0.9"/>
<ellipse cx="65.25" cy="45.60" rx="43.59" ry="9.00" transform="rotate(33.73 65.25 45.60)" fill="#7095b4" stroke="#2b4560" stroke-width="0.9"/>
<ellipse cx="72.05" cy="45.90" rx="42.94" ry="9.20" transform="rotate(31.91 72.05 45.90)" fill="#7095b4" stroke="#2b4560" stroke-width="0.9"/>
<ellipse cx="80.05" cy="42.80" rx="38.40" ry="10.40" transform="rotate(34.23 80.05 42.80)" fill="#7095b4" stroke="#2b4560" stroke-width="0.9"/>
<ellipse cx="124.50" cy="130.50" rx="8.80" ry="38.20" fill="#7095b4" stroke="#2b4560" stroke-width="0.9"/>
<ellipse cx="109.60" cy="134.00" rx="8.40" ry="38.40" fill="#7095b4" stroke="#2b4560" stroke-width="0.9"/>
<ellipse cx="138.30" cy="133.40" rx="9.20" ry="38.20" fill="#7095b4" stroke="#2b4560" stroke-width="0.9"/>
<ellipse cx="111.60" cy="137.40" rx="8.60" ry="36.00" fill="#7095b4" stroke="#2b4560" stroke-width="0.9"/>
<ellipse cx="136.60" cy="136.60" rx="8.60" ry="36.00" fill="#7095b4" stroke="#2b4560" stroke-width="0.9"/>
<ellipse cx="123.90" cy="143.00" rx="10.60" ry="35.90" fill="#7095b4" stroke="#2b4560" stroke-width="0.9"/>
<text x="121.90" y="85.50" font-size="8.8" text-anchor="start" fill="#7595b8" font-weight="bold" textLength="22.9" lengthAdjust="spacingAndGlyphs" stroke="#7595b8" stroke-width="0.3">IL-4Rα</text>
<text x="61.90" y="103.30" font-size="8.3" text-anchor="middle" fill="#6f96bd" font-weight="bold" textLength="4.8" lengthAdjust="spacingAndGlyphs" stroke="#6f96bd" stroke-width="0.35">K</text>
<text x="61.90" y="110.00" font-size="8.3" text-anchor="middle" fill="#6f96bd" font-weight="bold" textLength="6.27" lengthAdjust="spacingAndGlyphs" stroke="#6f96bd" stroke-width="0.35">W</text>
<text x="61.90" y="116.70" font-size="8.3" text-anchor="middle" fill="#6f96bd" font-weight="bold" textLength="4.8" lengthAdjust="spacingAndGlyphs" stroke="#6f96bd" stroke-width="0.35">H</text>
<text x="61.90" y="124.00" font-size="8.3" text-anchor="middle" fill="#6f96bd" font-weight="bold" textLength="4.8" lengthAdjust="spacingAndGlyphs" stroke="#6f96bd" stroke-width="0.35">N</text>
<text x="61.90" y="132.10" font-size="8.3" text-anchor="middle" fill="#222" stroke="#222" stroke-width="0.25" textLength="1.84" lengthAdjust="spacingAndGlyphs">I</text>
<text x="61.90" y="140.90" font-size="8.8" text-anchor="middle" fill="#111" font-weight="bold" textLength="5.61" lengthAdjust="spacingAndGlyphs" stroke="#111" stroke-width="0.35">G</text>
<text x="61.90" y="148.30" font-size="8.8" text-anchor="middle" fill="#111" font-weight="bold" textLength="5.61" lengthAdjust="spacingAndGlyphs" stroke="#111" stroke-width="0.35">G</text>
<text x="61.90" y="155.70" font-size="8.8" text-anchor="middle" fill="#111" font-weight="bold" textLength="5.61" lengthAdjust="spacingAndGlyphs" stroke="#111" stroke-width="0.35">G</text>
<text x="61.90" y="163.10" font-size="8.3" text-anchor="middle" fill="#222" stroke="#222" stroke-width="0.25" textLength="1.84" lengthAdjust="spacingAndGlyphs">I</text>
<text x="61.90" y="172.30" font-size="8.3" text-anchor="middle" fill="#7fa263" font-weight="bold" textLength="4.43" lengthAdjust="spacingAndGlyphs" stroke="#7fa263" stroke-width="0.35">S</text>
<text x="61.90" y="180.06" font-size="8.3" text-anchor="middle" fill="#7fa263" font-weight="bold" textLength="4.8" lengthAdjust="spacingAndGlyphs" stroke="#7fa263" stroke-width="0.35">R</text>
<text x="61.90" y="187.82" font-size="8.3" text-anchor="middle" fill="#7fa263" font-weight="bold" textLength="4.8" lengthAdjust="spacingAndGlyphs" stroke="#7fa263" stroke-width="0.35">N</text>
<text x="61.90" y="195.58" font-size="8.3" text-anchor="middle" fill="#7fa263" font-weight="bold" textLength="4.8" lengthAdjust="spacingAndGlyphs" stroke="#7fa263" stroke-width="0.35">D</text>
<text x="61.90" y="203.34" font-size="8.3" text-anchor="middle" fill="#7fa263" font-weight="bold" textLength="4.43" lengthAdjust="spacingAndGlyphs" stroke="#7fa263" stroke-width="0.35">P</text>
<text x="61.90" y="211.10" font-size="8.3" text-anchor="middle" fill="#7fa263" font-weight="bold" textLength="4.06" lengthAdjust="spacingAndGlyphs" stroke="#7fa263" stroke-width="0.35">F</text>
<text x="61.90" y="218.86" font-size="8.3" text-anchor="middle" fill="#7fa263" font-weight="bold" textLength="4.06" lengthAdjust="spacingAndGlyphs" stroke="#7fa263" stroke-width="0.35">L</text>
<text x="61.90" y="226.62" font-size="8.3" text-anchor="middle" fill="#7fa263" font-weight="bold" textLength="4.8" lengthAdjust="spacingAndGlyphs" stroke="#7fa263" stroke-width="0.35">H</text>
<text x="61.90" y="234.38" font-size="8.3" text-anchor="middle" fill="#7fa263" font-weight="bold" textLength="4.43" lengthAdjust="spacingAndGlyphs" stroke="#7fa263" stroke-width="0.35">P</text>
<text x="61.90" y="242.14" font-size="8.3" text-anchor="middle" fill="#7fa263" font-weight="bold" textLength="4.8" lengthAdjust="spacingAndGlyphs" stroke="#7fa263" stroke-width="0.35">D</text>
<text x="61.90" y="249.90" font-size="8.3" text-anchor="middle" fill="#7fa263" font-weight="bold" textLength="4.06" lengthAdjust="spacingAndGlyphs" stroke="#7fa263" stroke-width="0.35">F</text>
<text x="61.90" y="257.66" font-size="8.3" text-anchor="middle" fill="#7fa263" font-weight="bold" textLength="4.8" lengthAdjust="spacingAndGlyphs" stroke="#7fa263" stroke-width="0.35">C</text>
<text x="61.90" y="265.42" font-size="8.3" text-anchor="middle" fill="#7fa263" font-weight="bold" textLength="4.8" lengthAdjust="spacingAndGlyphs" stroke="#7fa263" stroke-width="0.35">C</text>
<circle cx="61.9" cy="82.9" r="0.8" fill="#555"/>
<circle cx="61.9" cy="89.4" r="0.8" fill="#555"/>
<circle cx="61.9" cy="96.0" r="0.8" fill="#555"/>
<circle cx="61.9" cy="271.8" r="0.8" fill="#555"/>
<circle cx="61.9" cy="278.7" r="0.8" fill="#555"/>
<circle cx="61.9" cy="286.3" r="0.8" fill="#555"/>
<text x="14.10" y="114.60" font-size="7.3" text-anchor="start" fill="#333" stroke="#333" stroke-width="0.1" textLength="22.2" lengthAdjust="spacingAndGlyphs">IL-4Rα</text>
<text x="7.40" y="124.30" font-size="7.3" text-anchor="start" fill="#333" stroke="#333" stroke-width="0.1" textLength="35" lengthAdjust="spacingAndGlyphs">Sequence</text>
<text x="16.20" y="146.90" font-size="7.3" text-anchor="start" fill="#333" stroke="#333" stroke-width="0.1" textLength="26.6" lengthAdjust="spacingAndGlyphs">Glycine</text>
<text x="18.80" y="155.70" font-size="7.3" text-anchor="start" fill="#333" stroke="#333" stroke-width="0.1" textLength="21.3" lengthAdjust="spacingAndGlyphs">Linker</text>
<text x="13.60" y="178.50" font-size="7.3" text-anchor="start" fill="#333" stroke="#333" stroke-width="0.1" textLength="23.4" lengthAdjust="spacingAndGlyphs">GPIbα</text>
<text x="7.40" y="188.30" font-size="7.3" text-anchor="start" fill="#333" stroke="#333" stroke-width="0.1" textLength="35.1" lengthAdjust="spacingAndGlyphs">Sequence</text>
<polyline points="57.2,130.3 48.2,120.6 48.2,107.5" fill="none" stroke="#1a1a1a" stroke-width="1.1"/>
<path d="M48.2,104 L45.9,108.8 L50.5,108.8 Z" fill="#1a1a1a"/>
<polyline points="57.4,162.4 48.2,173.6 48.2,194.5" fill="none" stroke="#1a1a1a" stroke-width="1.1"/>
<path d="M48.2,198.6 L45.9,193.8 L50.5,193.8 Z" fill="#1a1a1a"/>
<polyline points="68.5,130.5 74.8,135.4 74.8,153.2 68.5,160.3" fill="none" stroke="#1a1a1a" stroke-width="1.1"/>
<polyline points="74.8,146.3 102.3,173.5 122.5,178.6" fill="none" stroke="#1a1a1a" stroke-width="1.1"/>
<text x="77.40" y="186.60" font-size="7.4" text-anchor="start" fill="#90b477" font-weight="bold" textLength="22.6" lengthAdjust="spacingAndGlyphs">GPIbα</text>
<line x1="83.10" y1="232" x2="83.10" y2="243.5" stroke="#8a8a8a" stroke-width="0.9"/>
<line x1="85.90" y1="232" x2="85.90" y2="243.5" stroke="#8a8a8a" stroke-width="0.9"/>
<line x1="94.40" y1="232" x2="94.40" y2="243.5" stroke="#8a8a8a" stroke-width="0.9"/>
<line x1="97.20" y1="232" x2="97.20" y2="243.5" stroke="#8a8a8a" stroke-width="0.9"/>
<line x1="105.70" y1="232" x2="105.70" y2="243.5" stroke="#8a8a8a" stroke-width="0.9"/>
<line x1="108.50" y1="232" x2="108.50" y2="243.5" stroke="#8a8a8a" stroke-width="0.9"/>
<line x1="117.00" y1="232" x2="117.00" y2="243.5" stroke="#8a8a8a" stroke-width="0.9"/>
<line x1="119.80" y1="232" x2="119.80" y2="243.5" stroke="#8a8a8a" stroke-width="0.9"/>
<line x1="128.30" y1="232" x2="128.30" y2="243.5" stroke="#8a8a8a" stroke-width="0.9"/>
<line x1="131.10" y1="232" x2="131.10" y2="243.5" stroke="#8a8a8a" stroke-width="0.9"/>
<line x1="139.60" y1="232" x2="139.60" y2="243.5" stroke="#8a8a8a" stroke-width="0.9"/>
<line x1="142.40" y1="232" x2="142.40" y2="243.5" stroke="#8a8a8a" stroke-width="0.9"/>
<line x1="150.90" y1="232" x2="150.90" y2="243.5" stroke="#8a8a8a" stroke-width="0.9"/>
<line x1="153.70" y1="232" x2="153.70" y2="243.5" stroke="#8a8a8a" stroke-width="0.9"/>
<line x1="162.20" y1="232" x2="162.20" y2="243.5" stroke="#8a8a8a" stroke-width="0.9"/>
<line x1="165.00" y1="232" x2="165.00" y2="243.5" stroke="#8a8a8a" stroke-width="0.9"/>
<line x1="173.50" y1="232" x2="173.50" y2="243.5" stroke="#8a8a8a" stroke-width="0.9"/>
<line x1="176.30" y1="232" x2="176.30" y2="243.5" stroke="#8a8a8a" stroke-width="0.9"/>
<line x1="184.80" y1="232" x2="184.80" y2="243.5" stroke="#8a8a8a" stroke-width="0.9"/>
<line x1="187.60" y1="232" x2="187.60" y2="243.5" stroke="#8a8a8a" stroke-width="0.9"/>
<line x1="196.10" y1="232" x2="196.10" y2="243.5" stroke="#8a8a8a" stroke-width="0.9"/>
<line x1="198.90" y1="232" x2="198.90" y2="243.5" stroke="#8a8a8a" stroke-width="0.9"/>
<line x1="207.40" y1="232" x2="207.40" y2="243.5" stroke="#8a8a8a" stroke-width="0.9"/>
<line x1="210.20" y1="232" x2="210.20" y2="243.5" stroke="#8a8a8a" stroke-width="0.9"/>
<ellipse cx="84.50" cy="228.00" rx="5.45" ry="4.45" fill="#cbcbcd" stroke="#4f4f4f" stroke-width="0.9"/>
<ellipse cx="95.80" cy="228.00" rx="5.45" ry="4.45" fill="#cbcbcd" stroke="#4f4f4f" stroke-width="0.9"/>
<ellipse cx="107.10" cy="228.00" rx="5.45" ry="4.45" fill="#cbcbcd" stroke="#4f4f4f" stroke-width="0.9"/>
<ellipse cx="118.40" cy="228.00" rx="5.45" ry="4.45" fill="#cbcbcd" stroke="#4f4f4f" stroke-width="0.9"/>
<ellipse cx="129.70" cy="228.00" rx="5.45" ry="4.45" fill="#cbcbcd" stroke="#4f4f4f" stroke-width="0.9"/>
<ellipse cx="141.00" cy="228.00" rx="5.45" ry="4.45" fill="#cbcbcd" stroke="#4f4f4f" stroke-width="0.9"/>
<ellipse cx="152.30" cy="228.00" rx="5.45" ry="4.45" fill="#cbcbcd" stroke="#4f4f4f" stroke-width="0.9"/>
<ellipse cx="163.60" cy="228.00" rx="5.45" ry="4.45" fill="#cbcbcd" stroke="#4f4f4f" stroke-width="0.9"/>
<ellipse cx="174.90" cy="228.00" rx="5.45" ry="4.45" fill="#cbcbcd" stroke="#4f4f4f" stroke-width="0.9"/>
<ellipse cx="186.20" cy="228.00" rx="5.45" ry="4.45" fill="#cbcbcd" stroke="#4f4f4f" stroke-width="0.9"/>
<ellipse cx="197.50" cy="228.00" rx="5.45" ry="4.45" fill="#cbcbcd" stroke="#4f4f4f" stroke-width="0.9"/>
<ellipse cx="208.80" cy="228.00" rx="5.45" ry="4.45" fill="#cbcbcd" stroke="#4f4f4f" stroke-width="0.9"/>
<ellipse cx="84.50" cy="247.60" rx="5.45" ry="4.45" fill="#cbcbcd" stroke="#4f4f4f" stroke-width="0.9"/>
<ellipse cx="95.80" cy="247.60" rx="5.45" ry="4.45" fill="#cbcbcd" stroke="#4f4f4f" stroke-width="0.9"/>
<ellipse cx="107.10" cy="247.60" rx="5.45" ry="4.45" fill="#cbcbcd" stroke="#4f4f4f" stroke-width="0.9"/>
<ellipse cx="118.40" cy="247.60" rx="5.45" ry="4.45" fill="#cbcbcd" stroke="#4f4f4f" stroke-width="0.9"/>
<ellipse cx="129.70" cy="247.60" rx="5.45" ry="4.45" fill="#cbcbcd" stroke="#4f4f4f" stroke-width="0.9"/>
<ellipse cx="141.00" cy="247.60" rx="5.45" ry="4.45" fill="#cbcbcd" stroke="#4f4f4f" stroke-width="0.9"/>
<ellipse cx="152.30" cy="247.60" rx="5.45" ry="4.45" fill="#cbcbcd" stroke="#4f4f4f" stroke-width="0.9"/>
<ellipse cx="163.60" cy="247.60" rx="5.45" ry="4.45" fill="#cbcbcd" stroke="#4f4f4f" stroke-width="0.9"/>
<ellipse cx="174.90" cy="247.60" rx="5.45" ry="4.45" fill="#cbcbcd" stroke="#4f4f4f" stroke-width="0.9"/>
<ellipse cx="186.20" cy="247.60" rx="5.45" ry="4.45" fill="#cbcbcd" stroke="#4f4f4f" stroke-width="0.9"/>
<ellipse cx="197.50" cy="247.60" rx="5.45" ry="4.45" fill="#cbcbcd" stroke="#4f4f4f" stroke-width="0.9"/>
<ellipse cx="208.80" cy="247.60" rx="5.45" ry="4.45" fill="#cbcbcd" stroke="#4f4f4f" stroke-width="0.9"/>
<line x1="147" y1="234.6" x2="162.5" y2="234.6" stroke="#6a5b86" stroke-width="1.1"/>
<line x1="147" y1="237.2" x2="162.5" y2="237.2" stroke="#6a5b86" stroke-width="1.1"/>
<line x1="147" y1="239.8" x2="162.5" y2="239.8" stroke="#6a5b86" stroke-width="1.1"/>
<path d="M123,221 C126,223.5 124,226.8 112.5,226.8 C101,226.8 101,221.2 112.5,221.2 C118.5,221.2 122.5,224.8 122.8,227.2 C126,229.1 124,232.4 112.5,232.4 C101,232.4 101,226.79999999999998 112.5,226.79999999999998 C118.5,226.79999999999998 122.5,230.4 122.8,232.79999999999998 C126,234.7 124,238.0 112.5,238.0 C101,238.0 101,232.39999999999998 112.5,232.39999999999998 C118.5,232.39999999999998 122.5,236.0 122.8,238.39999999999998 C126,240.3 124,243.60000000000002 112.5,243.60000000000002 C101,243.60000000000002 101,238.0 112.5,238.0 C118.5,238.0 122.5,241.60000000000002 122.8,244.0 C126,245.9 124,249.20000000000002 112.5,249.20000000000002 C101,249.20000000000002 101,243.6 112.5,243.6 C118.5,243.6 122.5,247.20000000000002 122.8,249.6 L122.4,253" fill="none" stroke="#5d8346" stroke-width="2.4" stroke-linecap="round" stroke-linejoin="round"/>
<path d="M123,221 C126,223.5 124,226.8 112.5,226.8 C101,226.8 101,221.2 112.5,221.2 C118.5,221.2 122.5,224.8 122.8,227.2 C126,229.1 124,232.4 112.5,232.4 C101,232.4 101,226.79999999999998 112.5,226.79999999999998 C118.5,226.79999999999998 122.5,230.4 122.8,232.79999999999998 C126,234.7 124,238.0 112.5,238.0 C101,238.0 101,232.39999999999998 112.5,232.39999999999998 C118.5,232.39999999999998 122.5,236.0 122.8,238.39999999999998 C126,240.3 124,243.60000000000002 112.5,243.60000000000002 C101,243.60000000000002 101,238.0 112.5,238.0 C118.5,238.0 122.5,241.60000000000002 122.8,244.0 C126,245.9 124,249.20000000000002 112.5,249.20000000000002 C101,249.20000000000002 101,243.6 112.5,243.6 C118.5,243.6 122.5,247.20000000000002 122.8,249.6 L122.4,253" fill="none" stroke="#a9c98f" stroke-width="1.0" stroke-linecap="round" stroke-linejoin="round"/>
<path d="M122.4,252 L122.4,283 C122.4,291 114,292.6 104,292.2 C94,291.8 90.2,287 90.2,280 L90.2,273" fill="none" stroke="#5d8346" stroke-width="3.0" stroke-linecap="round" stroke-linejoin="round"/>
<path d="M122.4,252 L122.4,283 C122.4,291 114,292.6 104,292.2 C94,291.8 90.2,287 90.2,280 L90.2,273" fill="none" stroke="#a9c98f" stroke-width="1.3" stroke-linecap="round" stroke-linejoin="round"/>
<path d="M123.5,179.8 C121,186 114,189.5 108,191 C101,192.5 94.5,193 94.5,196 C94.5,199 102,198.5 107,196.5 C113,194 118,197 117.5,201.5 C117,206 110,207 106.5,205 C103,203 104.5,198 109,196.5 C114,195 118,195 120.5,193.5 C123,192 119.5,188.5 122.5,187.3 C126,186 132,187.5 132.7,192 C133.2,197 128.5,200 125.5,198.5 C123,197 126,195.5 130,196 C136,195.5 143.5,196.5 143,200.5 C142.5,204.5 134,205 130,203.5 C127,202.5 127.5,205 127,208 C126.5,212 125,217 124.5,222.5" fill="none" stroke="#5d8346" stroke-width="3.0" stroke-linecap="round" stroke-linejoin="round"/>
<path d="M123.5,179.8 C121,186 114,189.5 108,191 C101,192.5 94.5,193 94.5,196 C94.5,199 102,198.5 107,196.5 C113,194 118,197 117.5,201.5 C117,206 110,207 106.5,205 C103,203 104.5,198 109,196.5 C114,195 118,195 120.5,193.5 C123,192 119.5,188.5 122.5,187.3 C126,186 132,187.5 132.7,192 C133.2,197 128.5,200 125.5,198.5 C123,197 126,195.5 130,196 C136,195.5 143.5,196.5 143,200.5 C142.5,204.5 134,205 130,203.5 C127,202.5 127.5,205 127,208 C126.5,212 125,217 124.5,222.5" fill="none" stroke="#a9c98f" stroke-width="1.3" stroke-linecap="round" stroke-linejoin="round"/>
<path d="M165.3,206 L165.3,259" fill="none" stroke="#625681" stroke-width="2.8" stroke-linecap="round" stroke-linejoin="round"/>
<path d="M165.3,206 L165.3,259" fill="none" stroke="#a89dc0" stroke-width="1.2" stroke-linecap="round" stroke-linejoin="round"/>
<path d="M196.4,223.5 C199,225.1 197.4,228.4 185.5,228.4 C174,228.4 174,222.79999999999998 185.5,222.79999999999998 C191.5,222.79999999999998 195.6,226.4 196,228.79999999999998 C199,230.7 197.4,234.0 185.5,234.0 C174,234.0 174,228.39999999999998 185.5,228.39999999999998 C191.5,228.39999999999998 195.6,232.0 196,234.39999999999998 C199,236.3 197.4,239.60000000000002 185.5,239.60000000000002 C174,239.60000000000002 174,234.0 185.5,234.0 C191.5,234.0 195.6,237.60000000000002 196,240.0 C199,241.9 197.4,245.20000000000002 185.5,245.20000000000002 C174,245.20000000000002 174,239.6 185.5,239.6 C191.5,239.6 195.6,243.20000000000002 196,245.6 C199,247.5 197.4,250.8 185.5,250.8 C174,250.8 174,245.2 185.5,245.2 C191.5,245.2 195.6,248.8 196,251.2 L195.7,254" fill="none" stroke="#625681" stroke-width="2.3" stroke-linecap="round" stroke-linejoin="round"/>
<path d="M196.4,223.5 C199,225.1 197.4,228.4 185.5,228.4 C174,228.4 174,222.79999999999998 185.5,222.79999999999998 C191.5,222.79999999999998 195.6,226.4 196,228.79999999999998 C199,230.7 197.4,234.0 185.5,234.0 C174,234.0 174,228.39999999999998 185.5,228.39999999999998 C191.5,228.39999999999998 195.6,232.0 196,234.39999999999998 C199,236.3 197.4,239.60000000000002 185.5,239.60000000000002 C174,239.60000000000002 174,234.0 185.5,234.0 C191.5,234.0 195.6,237.60000000000002 196,240.0 C199,241.9 197.4,245.20000000000002 185.5,245.20000000000002 C174,245.20000000000002 174,239.6 185.5,239.6 C191.5,239.6 195.6,243.20000000000002 196,245.6 C199,247.5 197.4,250.8 185.5,250.8 C174,250.8 174,245.2 185.5,245.2 C191.5,245.2 195.6,248.8 196,251.2 L195.7,254" fill="none" stroke="#a89dc0" stroke-width="1.0" stroke-linecap="round" stroke-linejoin="round"/>
<path d="M196.9,201 L196.2,225" fill="none" stroke="#625681" stroke-width="2.8" stroke-linecap="round" stroke-linejoin="round"/>
<path d="M196.9,201 L196.2,225" fill="none" stroke="#a89dc0" stroke-width="1.2" stroke-linecap="round" stroke-linejoin="round"/>
<path d="M195.7,253 L195.7,268.6" fill="none" stroke="#625681" stroke-width="2.8" stroke-linecap="round" stroke-linejoin="round"/>
<path d="M195.7,253 L195.7,268.6" fill="none" stroke="#a89dc0" stroke-width="1.2" stroke-linecap="round" stroke-linejoin="round"/>
<path d="M155.9,172.4 C161,171.5 168,172.5 172,175.5 C177,179 179.6,185 179.5,191 C179.4,198 176,204 170,206.8 C165,208.5 160.5,206 159,201 C157.8,197 158.5,193 157.5,189.5 C156.5,187 152.5,186 151,183 C149.5,179.5 151.5,173.5 155.9,172.4 Z" fill="#9581ae" stroke="#625681" stroke-width="0.9"/>
<path d="M196.5,157.1 C205,155.5 214,156 218,161 C221,166 219.5,171 215,174 C211,176.5 208.5,177.5 208.2,182 C208,186 209,190 207.5,195 C206,199.5 200,202.5 193,202.5 C186,202.5 182.5,197 181.4,190 C180.5,182 181,174 184.5,167 C187,162 191,158 196.5,157.1 Z" fill="#9581ae" stroke="#625681" stroke-width="0.9"/>
<text x="153.60" y="185.40" font-size="7.8" text-anchor="start" fill="#e2d6f0" stroke="#e2d6f0" stroke-width="0.25" textLength="21.6" lengthAdjust="spacingAndGlyphs">GPIbβ</text>
<text x="187.70" y="172.30" font-size="7.8" text-anchor="start" fill="#e2d6f0" stroke="#e2d6f0" stroke-width="0.25" textLength="22.6" lengthAdjust="spacingAndGlyphs">GPIbβ</text>
<text x="136.00" y="212.40" font-size="6.6" text-anchor="start" fill="#222" stroke="#222" stroke-width="0.25" textLength="13.2" lengthAdjust="spacingAndGlyphs">S-S</text>
<text x="141.50" y="220.10" font-size="6.6" text-anchor="start" fill="#222" stroke="#222" stroke-width="0.25" textLength="11.5" lengthAdjust="spacingAndGlyphs">S-S</text>
<polyline points="128.6,212.4 135.2,210.2" fill="none" stroke="#111" stroke-width="1.1" stroke-dasharray="1.8,1.3"/>
<polyline points="149.8,209.6 164.6,210.8" fill="none" stroke="#111" stroke-width="1.1" stroke-dasharray="1.8,1.3"/>
<polyline points="126.4,214.6 140.8,217.6" fill="none" stroke="#111" stroke-width="1.1"/>
<polyline points="153.6,216.6 195.4,208.2" fill="none" stroke="#111" stroke-width="1.1"/>
<rect x="0.75" y="0.75" width="518.5" height="605.5" fill="none" stroke="#000" stroke-width="1.5"/>
</svg></body></html>
